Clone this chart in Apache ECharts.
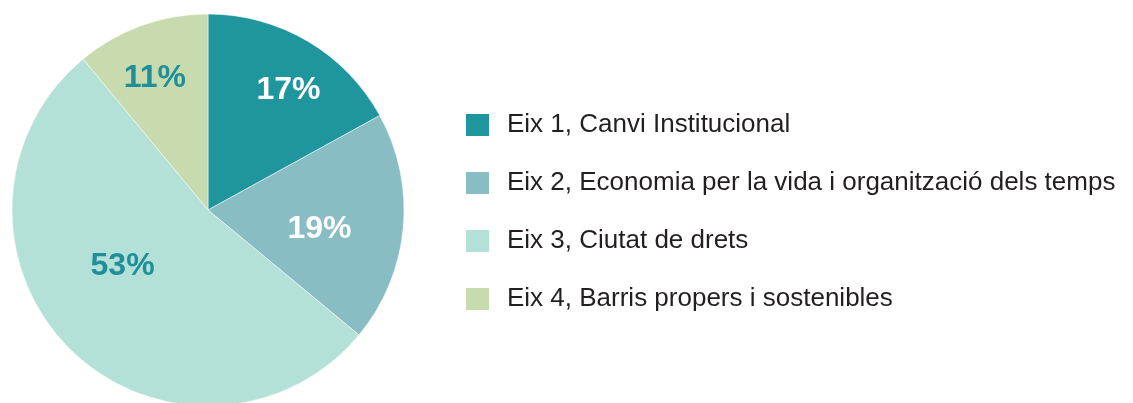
<!DOCTYPE html>
<html>
<head>
<meta charset="utf-8">
<script src="https://cdn.jsdelivr.net/npm/echarts@6/dist/echarts.min.js"></script>
<style>
  html, body { margin: 0; padding: 0; background: #fff; }
  #main { width: 1133px; height: 403px; }
</style>
</head>
<body>
<div id="main"></div>
<script>
// data
var categories = [
  "Eix 1, Canvi Institucional",
  "Eix 2, Economia per la vida i organització dels temps",
  "Eix 3, Ciutat de drets",
  "Eix 4, Barris propers i sostenibles"
];
var shares = [17, 19, 53, 11];

// styling
var colors = ["#1f959e", "#88bdc3", "#b3e0d7", "#c8dbae"];
var labelColors = ["#fff", "#fff", "#1f8f99", "#1f8f99"];
// nudge of each label from its default inside spot
var labelShift = [[29, -33], [11, 10], [-14, -15], [-19, -37]];

var chart = echarts.init(document.getElementById("main"));

var option = {
  animation: false,
  textStyle: { fontFamily: "Liberation Sans, Arial, sans-serif" },
  legend: {
    orient: "vertical",
    left: 466,
    top: 112,
    padding: 0,
    itemWidth: 23,
    itemHeight: 22,
    itemGap: 32,
    icon: "rect",
    itemStyle: { borderWidth: 0 },
    data: categories,
    textStyle: {
      fontSize: 26,
      color: "#231f20",
      padding: [0, 0, 0, 13]
    }
  },
  series: [
    {
      type: "pie",
      center: [208, 210],
      radius: 196,
      startAngle: 90,
      clockwise: true,
      silent: true,
      itemStyle: { borderColor: "#fff", borderWidth: 0.5 },
      label: {
        show: true,
        position: "inside",
        formatter: "{c}%",
        fontSize: 32,
        fontWeight: "bold"
      },
      labelLine: { show: false },
      labelLayout: function (p) {
        var s = labelShift[p.dataIndex];
        return { dx: s[0], dy: s[1] };
      },
      data: categories.map(function (name, i) {
        return {
          name: name,
          value: shares[i],
          itemStyle: { color: colors[i] },
          label: { color: labelColors[i] }
        };
      })
    }
  ]
};

chart.setOption(option);
</script>
</body>
</html>
